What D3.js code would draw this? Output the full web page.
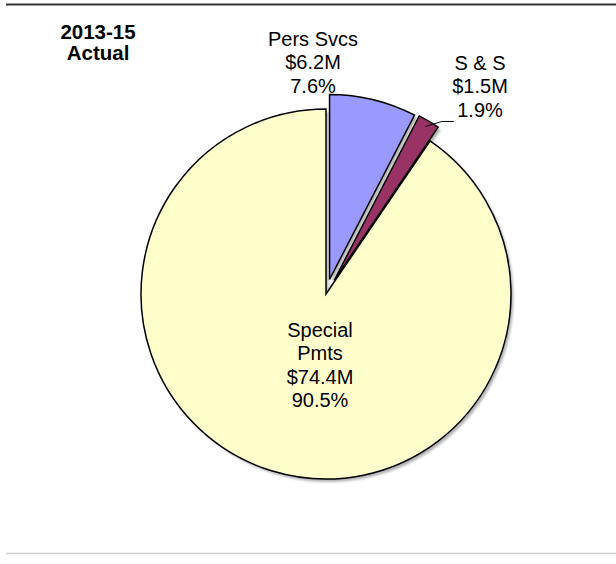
<!DOCTYPE html>
<html>
<head>
<meta charset="utf-8">
<script src="https://cdn.jsdelivr.net/npm/d3@7"></script>
<style>
  html, body { margin: 0; padding: 0; background: #fff; }
  svg { display: block; }
  text { font-family: "Liberation Sans", Arial, sans-serif; fill: #000; }
</style>
</head>
<body>
<svg id="chart" width="616" height="564"></svg>
<script>
// Spending categories, 2013-15 actual
const categories = ["Pers Svcs", "S & S", "Special Pmts"];
const labelNames = [["Pers Svcs"], ["S & S"], ["Special", "Pmts"]];
const amounts = ["$6.2M", "$1.5M", "$74.4M"];
const percents = [7.6, 1.9, 90.5];
const titleLines = ["2013-15", "Actual"];

const colors = ["#9999FF", "#993366", "#FFFFCC"];
const explode = [15, 16, 0];          // px each slice is pulled out
// label anchors relative to the pie centre (dx, baseline of first line)
const labelPos = [
  { dx: -13, dy: -248, anchor: "middle" },
  { dx: 154, dy: -224, anchor: "middle" },
  { dx: -6,  dy: 43,   anchor: "middle" }
];

const W = 616, H = 564;
const cx = 326, cy = 294, R = 185;
const lineH = 23.3;

const svg = d3.select("#chart");

// frame rules
svg.append("line").attr("x1", 6).attr("x2", W).attr("y1", 4.5).attr("y2", 4.5)
  .attr("stroke", "#333").attr("stroke-width", 2);
svg.append("line").attr("x1", 6).attr("x2", W).attr("y1", 553.5).attr("y2", 553.5)
  .attr("stroke", "#cfcfcf").attr("stroke-width", 1.5);

// title
svg.append("text")
  .attr("x", 98).attr("y", 39)
  .attr("text-anchor", "middle")
  .style("font-weight", "bold").style("font-size", "20.5px")
  .selectAll("tspan").data(titleLines).join("tspan")
  .attr("x", 98).attr("dy", (d, i) => i ? 21 : 0)
  .text(d => d);

const data = categories.map((c, i) => ({ name: c, pct: percents[i], i }));
const pie = d3.pie().value(d => d.pct).sort(null).startAngle(0).endAngle(2 * Math.PI);
const arcs = pie(data);
const arc = d3.arc().innerRadius(0).outerRadius(R);

function offset(d) {
  const m = (d.startAngle + d.endAngle) / 2;
  const e = explode[d.data.i];
  return [e * Math.sin(m), -e * Math.cos(m)];
}

const g = svg.append("g").attr("transform", `translate(${cx},${cy})`);

// soft drop shadow
const defs = svg.append("defs");
defs.append("filter").attr("id", "blur").append("feGaussianBlur").attr("stdDeviation", 1.2);
g.append("g").attr("filter", "url(#blur)")
  .selectAll("path").data(arcs).join("path")
  .attr("transform", d => { const [x, y] = offset(d); return `translate(${x + 2.5},${y + 3})`; })
  .attr("d", arc)
  .attr("fill", "#7a7a7a").attr("opacity", 0.55);

g.append("g")
  .selectAll("path").data(arcs).join("path")
  .attr("transform", d => { const [x, y] = offset(d); return `translate(${x},${y})`; })
  .attr("d", arc)
  .attr("fill", d => colors[d.data.i])
  .attr("stroke", "#000")
  .attr("stroke-width", 1.5)
  .attr("stroke-linejoin", "miter");

// leader line for the small slice
const ss = arcs[1];
const [ox, oy] = offset(ss);
const mid = (ss.startAngle + ss.endAngle) / 2;
const p0 = [ox + (R - 6) * Math.sin(mid), oy - (R - 6) * Math.cos(mid)];
g.append("polyline")
  .attr("points", [p0, [p0[0] + 16, p0[1] - 5], [p0[0] + 28, p0[1] - 5]].map(p => p.join(",")).join(" "))
  .attr("fill", "none").attr("stroke", "#000").attr("stroke-width", 1);

// slice labels
arcs.forEach(d => {
  const i = d.data.i;
  const lp = labelPos[i];
  const lines = labelNames[i].concat([amounts[i], d3.format(".1f")(percents[i]) + "%"]);
  const t = g.append("text")
    .attr("text-anchor", lp.anchor)
    .style("font-size", "20px");
  t.selectAll("tspan").data(lines).join("tspan")
    .attr("x", lp.dx)
    .attr("y", (s, k) => lp.dy + k * lineH)
    .text(s => s);
});
</script>
</body>
</html>
